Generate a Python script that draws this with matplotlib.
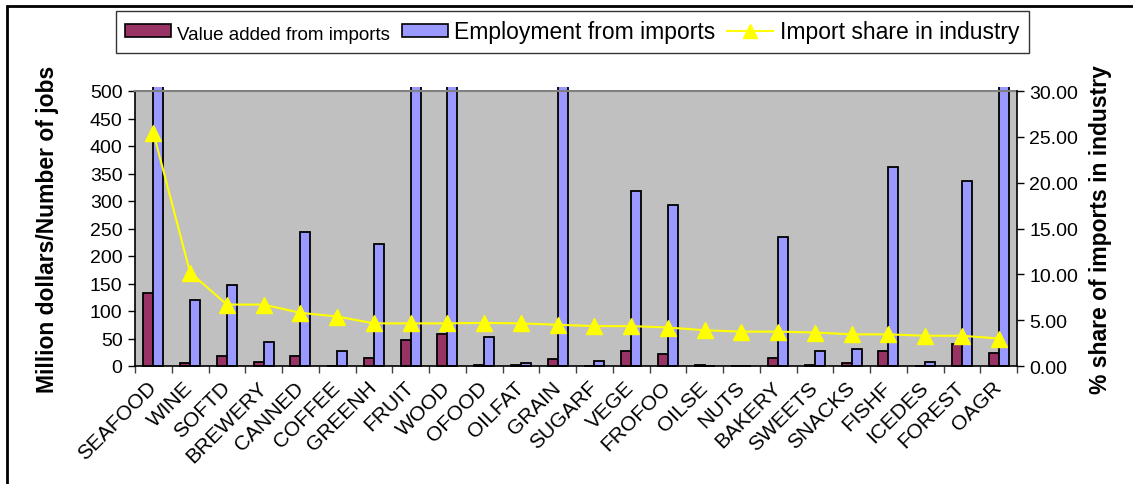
import matplotlib
matplotlib.use("Agg")
import matplotlib.pyplot as plt
import numpy as np
from matplotlib.patches import Patch, Rectangle
from matplotlib.lines import Line2D
from matplotlib.transforms import Bbox, TransformedBbox

plt.rcParams['font.family'] = ['Liberation Sans', 'DejaVu Sans']

industries = ["SEAFOOD", "WINE", "SOFTD", "BREWERY", "CANNED", "COFFEE", "GREENH",
              "FRUIT", "WOOD", "OFOOD", "OILFAT", "GRAIN", "SUGARF", "VEGE", "FROFOO",
              "OILSE", "NUTS", "BAKERY", "SWEETS", "SNACKS", "FISHF", "ICEDES",
              "FOREST", "OAGR"]
value_added = [133, 5, 18, 8, 18, 0, 15, 47, 59, 2, 1, 12, 0, 28, 21, 2, 0, 15,
               2.5, 5, 28, 0, 40, 24]
employment = [1400, 120, 148, 44, 244, 27, 222, 900, 1100, 53, 5, 1200, 8.5, 318,
              292, 0, 0, 235, 27, 31, 362, 8, 337, 800]
import_share = [25.45, 10.2, 6.7, 6.7, 5.8, 5.4, 4.65, 4.65, 4.65, 4.7, 4.65, 4.5,
                4.35, 4.35, 4.2, 3.9, 3.75, 3.75, 3.65, 3.45, 3.45, 3.3, 3.3, 3.0]

n = len(industries)
x = np.arange(n)
W, H = 1133, 485

fig = plt.figure(figsize=(W / 100, H / 100), dpi=100)
ax = fig.add_axes([135 / W, 1 - 367 / H, (1017 - 135) / W, (367 - 92) / H])
ax.set_facecolor("#C0C0C0")

bw = 0.27
va_bars = ax.bar(x - bw / 2, value_added, bw, color="#993366", edgecolor="black",
                 linewidth=1.3, zorder=2)
emp_bars = ax.bar(x + bw / 2, employment, bw, color="#9999FF", edgecolor="black",
                  linewidth=1.3, zorder=2)
# let clipped bars poke slightly above the plot area, as in the original
clip = TransformedBbox(Bbox([[0, -0.05], [1, 1.015]]), ax.transAxes)
for b in list(va_bars) + list(emp_bars):
    b.set_clip_box(clip)

ax.set_xlim(-0.5, n - 0.5)
ax.set_ylim(0, 500)
ax.set_yticks(range(0, 501, 50))
ax.set_xticks(x)
ax.set_xticklabels(industries, rotation=45, ha="right", va="center",
                   rotation_mode="anchor", fontsize=15)
ax.set_xticks(np.arange(n + 1) - 0.5, minor=True)
ax.tick_params(axis="x", which="major", length=0, pad=13)
ax.tick_params(axis="x", which="minor", length=5, width=1, color="#404040")
ax.tick_params(axis="y", length=5, width=1, labelsize=14, pad=4)
ax.set_ylabel("Million dollars/Number of jobs", fontsize=16.5, fontweight="bold",
              labelpad=22)
for s in ("left", "bottom"):
    ax.spines[s].set_color("black")
    ax.spines[s].set_linewidth(1.2)
ax.spines["top"].set_color("#808080")
ax.spines["top"].set_linewidth(1.5)
ax.spines["right"].set_visible(False)

ax2 = ax.twinx()
ax2.plot(x, import_share, color="#FFFF00", linewidth=1.5, marker="^",
         markersize=11, markerfacecolor="#FFFF00", markeredgecolor="#FFFF00",
         zorder=3, clip_on=False)
ax2.set_ylim(0, 30)
ax2.set_yticks(range(0, 31, 5))
ax2.set_yticklabels([f"{v:.2f}" for v in range(0, 31, 5)])
ax2.tick_params(axis="y", length=5, width=1, labelsize=14, pad=4)
ax2.set_ylabel("% share of imports in industry", fontsize=16.5, fontweight="bold",
               labelpad=8)
for s in ("left", "top", "bottom"):
    ax2.spines[s].set_visible(False)
ax2.spines["right"].set_color("black")
ax2.spines["right"].set_linewidth(1.2)

handles = [Patch(facecolor="#993366", edgecolor="black", linewidth=1.2),
           Patch(facecolor="#9999FF", edgecolor="black", linewidth=1.2),
           Line2D([], [], color="#FFFF00", linewidth=1.5, marker="^",
                  markersize=10, markeredgecolor="#FFFF00")]
labels = ["Value added from imports", "Employment from imports",
          "Import share in industry"]
leg = fig.legend(handles, labels, loc="center", bbox_to_anchor=(572 / W, 1 - 33 / H),
                 ncol=3, fontsize=16.5, frameon=True, fancybox=False, edgecolor="black",
                 handlelength=2.0, handleheight=0.5, handletextpad=0.3,
                 columnspacing=0.5, borderpad=0.4, borderaxespad=0)
leg.get_frame().set_linewidth(1.0)
leg.get_texts()[0].set_fontsize(13.5)
leg.get_texts()[0].set_fontfamily(["Liberation Sans Narrow", "Liberation Sans"])

# chart border (only top and left edges fall inside the image)
fig.add_artist(Rectangle((7 / W, -0.2), 1.2, 1.2 - 7 / H, transform=fig.transFigure,
                         fill=False, edgecolor="black", linewidth=2, clip_on=False))

fig.savefig("out.png", dpi=100)
